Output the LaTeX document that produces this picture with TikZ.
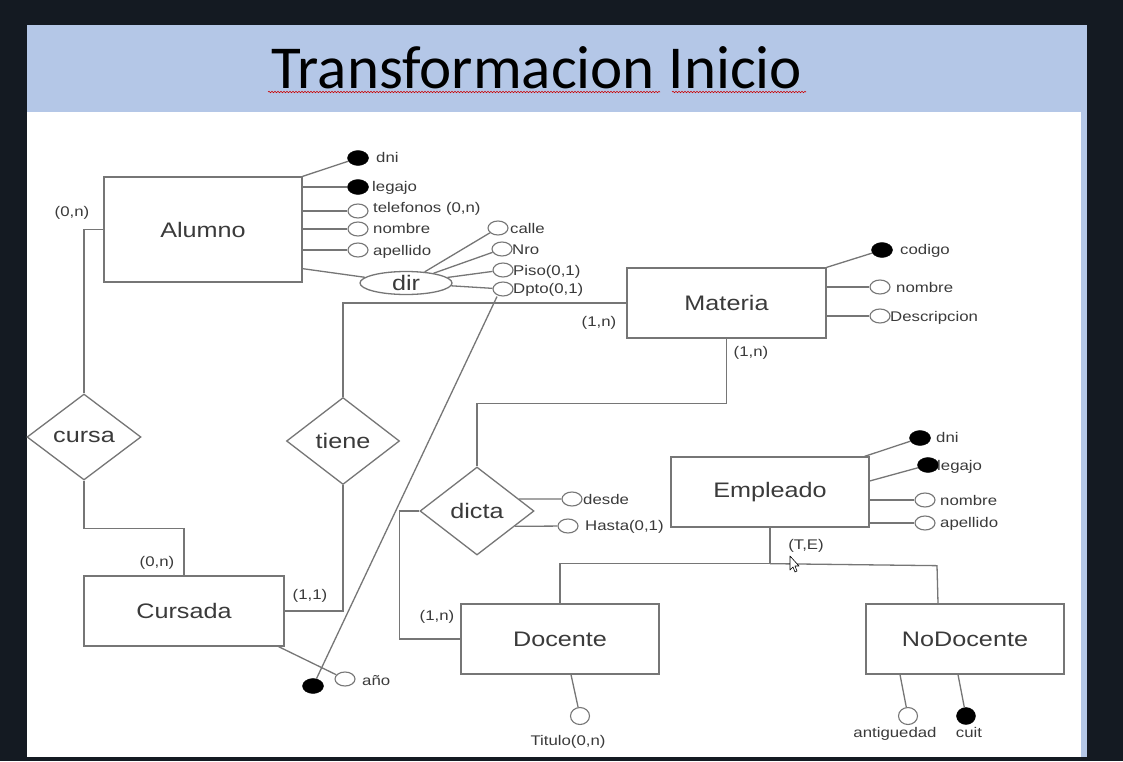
\documentclass[tikz,border=0pt]{standalone}
\usepackage{fontspec}
\usetikzlibrary{shapes.geometric,decorations.pathmorphing}
\newfontfamily\erfont[FakeStretch=1.2]{Liberation Sans}
\newfontfamily\titlefont{Carlito}
\definecolor{slidebg}{HTML}{141A22}
\definecolor{slideblue}{HTML}{B4C7E7}
\definecolor{erline}{HTML}{767676}
\definecolor{ertext}{HTML}{3A3A3A}
\begin{document}
\begin{tikzpicture}[x=1pt,y=-1pt,
  er/.style={line width=1.3pt, draw=erline},
  entity/.style={draw=erline, line width=1.3pt, fill=white, minimum width=198pt,
    minimum height=70pt, inner sep=0pt, text=ertext, font=\erfont\fontsize{21}{24}\selectfont},
  relation/.style={diamond, draw=erline, line width=1.3pt, fill=white, minimum width=114pt,
    minimum height=87pt, inner sep=0pt, text=ertext, font=\erfont\fontsize{21}{24}\selectfont},
  composite/.style={ellipse, draw=erline, line width=1.3pt, fill=white, minimum width=92pt,
    minimum height=23pt, inner sep=0pt, text=ertext, font=\erfont\fontsize{21}{24}\selectfont},
  keyatt/.style={ellipse, fill=black, draw=black, minimum width=21pt, minimum height=15pt, inner sep=0pt},
  att/.style={ellipse, fill=white, draw=erline, line width=1.1pt, minimum width=20pt,
    minimum height=14pt, inner sep=0pt},
  lbl/.style={text=ertext, font=\erfont\fontsize{14}{16}\selectfont, inner sep=0pt},
  spell/.style={draw=red!80!black, line width=0.6pt, decorate,
    decoration={snake, segment length=3pt, amplitude=0.7pt}},
]
\useasboundingbox (0,0) rectangle (1123,761);

% slide background
\fill[slidebg] (0,0) rectangle (1123,761);
\fill[slideblue] (27,25) rectangle (1087,757);
\fill[white] (27,112) rectangle (1081,757);

% title
\node[font=\titlefont\fontsize{61}{70}\selectfont, anchor=base, inner sep=0pt] (title) at (537,88) {Transformacion Inicio};
\coordinate (sp1a) at (268,92); \coordinate (sp1b) at (660,92);
\coordinate (sp2a) at (672,92); \coordinate (sp2b) at (806,92);
\draw[spell] (sp1a) -- (sp1b);
\draw[spell] (sp2a) -- (sp2b);

% entities
\node[entity, minimum height=105pt] (alumno) at (203,229.5) {Alumno};
\node[entity, minimum width=199pt] (materia) at (726.5,303) {Materia};
\node[entity, minimum width=200pt] (cursada) at (184,611) {Cursada};
\node[entity] (empleado) at (770,492) {Empleado};
\node[entity] (docente) at (560,639) {Docente};
\node[entity] (nodocente) at (965,639) {NoDocente};

% relationships
\node[relation, minimum height=86pt] (cursa) at (84,437) {cursa};
\node[relation, minimum width=113pt] (tiene) at (343,441) {tiene};
\node[relation, minimum height=88pt] (dicta) at (477,511) {dicta};

% composite attribute
\node[composite] (dir) at (406,283) {dir};

% relationship connectors
\draw[er] (alumno.west) -| (cursa.north);
\draw[er] (cursa.south) -- ++(0,48) -| (cursada.north);
\draw[er] (tiene.south) |- (cursada.east);
\draw[er] (tiene.north) |- (materia.west);
\draw[er] (materia.south) -- ++(0,65) -| (dicta.north);
\draw[er] (dicta.west) -- ++(-20,0) |- (docente.west);

% generalisation Empleado -> Docente / NoDocente
\coordinate (isa) at ([yshift=-36pt]empleado.south);
\coordinate (isaR) at ([xshift=-27pt]nodocente.north);
\draw[er] (empleado.south) -- (isa);
\draw[er] (docente.north) |- (isa);
\draw[er] (isa) -- ++(167,2) -- (isaR);

% Alumno attributes
\node[keyatt] (al-dni) at (358,158) {};
\node[keyatt] (al-leg) at (358,187) {};
\node[att] (al-tel) at (358,211) {};
\node[att] (al-nom) at (358,229) {};
\node[att] (al-ape) at (358,250) {};
\draw[er] (alumno.north east) -- (al-dni);
\draw[er] (alumno.east |- al-leg) -- (al-leg);
\draw[er] (alumno.east |- al-tel) -- (al-tel);
\draw[er] (alumno.east |- al-nom) -- (al-nom);
\draw[er] (alumno.east |- al-ape) -- (al-ape);
\draw[er] ([yshift=14pt]alumno.south east) -- (dir);
\node[lbl, anchor=base west] (al-dni-t) at (376,162) {dni};
\node[lbl, anchor=base west] (al-leg-t) at (372,191) {legajo};
\node[lbl, anchor=base west] (al-tel-t) at (373,212) {telefonos (0,n)};
\node[lbl, anchor=base west] (al-nom-t) at (373,233) {nombre};
\node[lbl, anchor=base west] (al-ape-t) at (373,255) {apellido};

% dir components
\node[att] (calle) at (498,228) {};
\node[att] (nro) at (502,249) {};
\node[att] (piso) at (503,270) {};
\node[att] (dpto) at (503,289) {};
\draw[er] (dir) -- (calle);
\draw[er] (dir) -- (nro);
\draw[er] (dir) -- (piso);
\draw[er] (dir) -- (dpto);
\node[lbl, anchor=base west] (calle-t) at (510,233) {calle};
\node[lbl, anchor=base west] (nro-t) at (512,254) {Nro};
\node[lbl, anchor=base west] (piso-t) at (513,275) {Piso(0,1)};
\node[lbl, anchor=base west] (dpto-t) at (513,293) {Dpto(0,1)};

% Cursada attributes
\node[att] (anio) at (345,679) {};
\node[keyatt] (cur-id) at (313,686) {};
\draw[er] ([xshift=-6pt]cursada.south east) -- (anio);
\draw[er] (cur-id) -- ([xshift=-6pt]dpto.south);
\node[lbl, anchor=base west] (anio-t) at (362,685) {año};

% Materia attributes
\node[keyatt] (ma-cod) at (882,250) {};
\node[att] (ma-nom) at (880,287) {};
\node[att] (ma-des) at (880,316) {};
\draw[er] (materia.north east) -- (ma-cod);
\draw[er] (materia.east |- ma-nom) -- (ma-nom);
\draw[er] (materia.east |- ma-des) -- (ma-des);
\node[lbl, anchor=base west] (ma-cod-t) at (900,254) {codigo};
\node[lbl, anchor=base west] (ma-nom-t) at (896,292) {nombre};
\node[lbl, anchor=base west] (ma-des-t) at (890,321) {Descripcion};

% dicta attributes
\node[att] (desde) at (572,499) {};
\node[att] (hasta) at (568,526) {};
\draw[er] (dicta.16) -- (desde);
\draw[er] (dicta.-22) -- (hasta);
\node[lbl, anchor=base west] (desde-t) at (583,504) {desde};
\node[lbl, anchor=base west] (hasta-t) at (585,530) {Hasta(0,1)};

% Empleado attributes
\node[keyatt] (em-dni) at (920,438) {};
\node[keyatt] (em-leg) at (928,465) {};
\node[att] (em-nom) at (925,500) {};
\node[att] (em-ape) at (925,523) {};
\draw[er] ([xshift=-5pt]empleado.north east) -- (em-dni);
\draw[er] ([yshift=11pt]empleado.east) -- (em-leg);
\draw[er] (empleado.east |- em-nom) -- (em-nom);
\draw[er] (empleado.east |- em-ape) -- (em-ape);
\node[lbl, anchor=base west] (em-dni-t) at (936,442) {dni};
\node[lbl, anchor=base west] (em-leg-t) at (937,470) {legajo};
\node[lbl, anchor=base west] (em-nom-t) at (940,505) {nombre};
\node[lbl, anchor=base west] (em-ape-t) at (940,527) {apellido};

% Docente / NoDocente attributes
\node[att, minimum width=19pt, minimum height=17pt] (titulo) at (580,716) {};
\node[att, minimum width=19pt, minimum height=17pt] (antig) at (908,716) {};
\node[keyatt, minimum width=19pt, minimum height=17pt] (cuit) at (966,716) {};
\draw[er] ([xshift=11pt]docente.south) -- (titulo);
\draw[er] ([xshift=-65pt]nodocente.south) -- (antig);
\draw[er] ([xshift=-7pt]nodocente.south) -- (cuit);
\node[lbl, anchor=base] (titulo-t) at (568,745) {Titulo(0,n)};
\node[lbl, anchor=base] (antig-t) at (895,737) {antiguedad};
\node[lbl, anchor=base] (cuit-t) at (969,737) {cuit};

% cardinalities
\node[lbl] (c1) at (72,213) {(0,n)};
\node[lbl] (c2) at (157,563) {(0,n)};
\node[lbl] (c3) at (310,596) {(1,1)};
\node[lbl] (c4) at (599,323) {(1,n)};
\node[lbl] (c5) at (751,353) {(1,n)};
\node[lbl] (c6) at (437,617) {(1,n)};
\node[lbl] (c7) at (806,546) {(T,E)};

% mouse pointer
\draw[fill=white, draw=black, line width=0.6pt, line join=round]
  (790,556) -- (790,570) -- (793,567) -- (795,572) -- (797,571) -- (795,566) -- (799,566) -- cycle;
\end{tikzpicture}
\end{document}
